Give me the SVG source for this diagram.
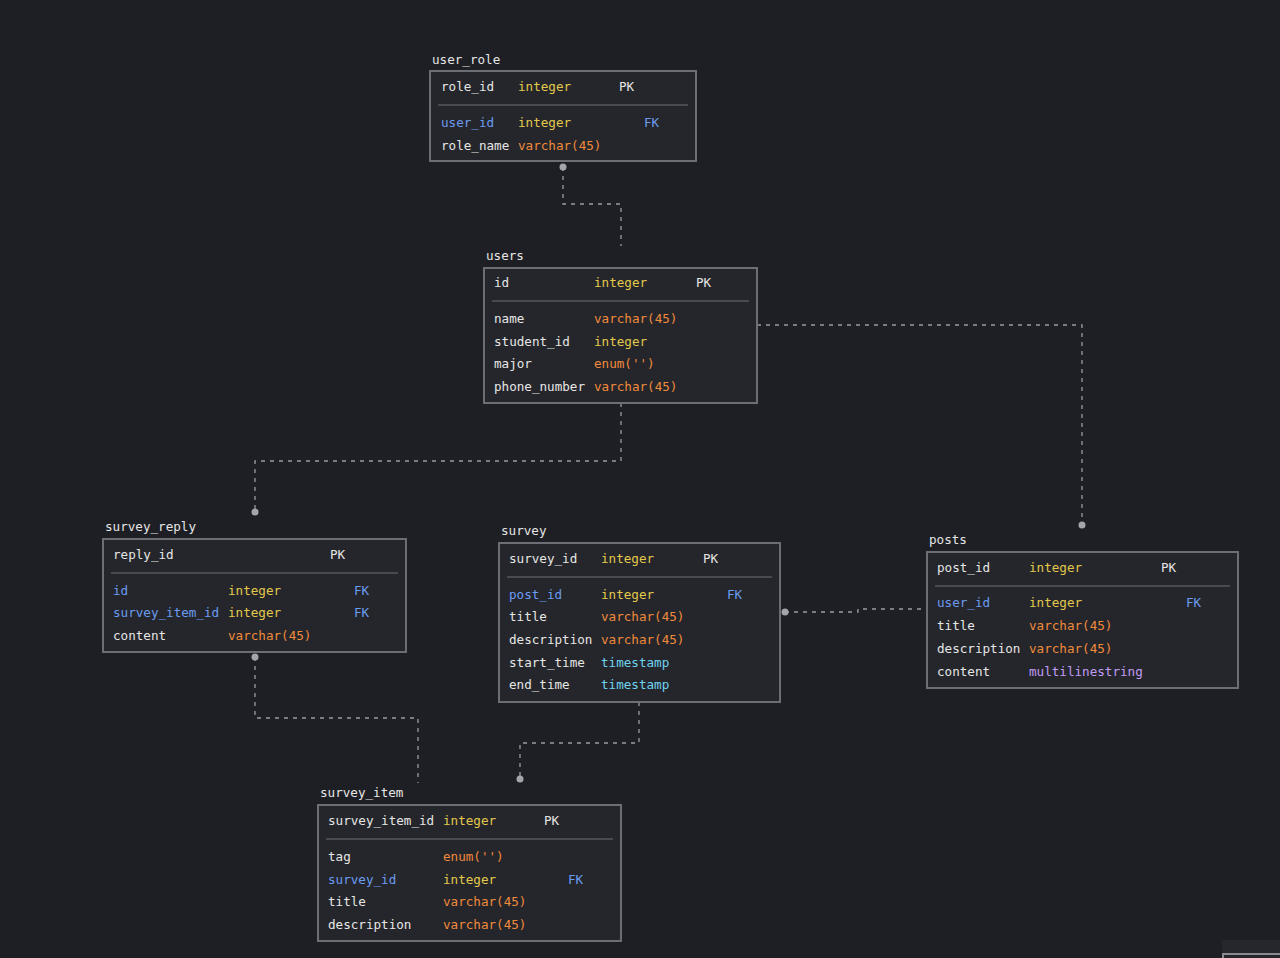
<svg xmlns="http://www.w3.org/2000/svg" width="1280" height="958" viewBox="0 0 1280 958">
<style>
text{font-family:"DejaVu Sans Mono","Liberation Mono",monospace;font-size:12.6px;fill:#e6e6e6}
.box{fill:#25262b;stroke:#6c6e76;stroke-width:2}
.sep{stroke:#55575e;stroke-width:1.5}
.i{fill:#e3c94c}
.v{fill:#f08a3c}
.f{fill:#6b9cf2}
.c{fill:#6fd3ee}
.p{fill:#c09cf4}
.ln{fill:none;stroke:#9a9ba0;stroke-width:1.3;stroke-dasharray:4 5}
.dot{fill:#a4a5aa}
</style>
<rect width="1280" height="958" fill="#1e1f24"/>
<g id="connectors">
<path class="ln" d="M563 167 V204 H621 V246"/>
<circle class="dot" cx="563" cy="167" r="3.5"/>
<path class="ln" d="M757 325 H1082 V525"/>
<circle class="dot" cx="1082" cy="525" r="3.5"/>
<path class="ln" d="M621 403 V461 H255 V512"/>
<circle class="dot" cx="255" cy="512" r="3.5"/>
<path class="ln" d="M255 657 V718 H418 V783"/>
<circle class="dot" cx="255" cy="657" r="3.5"/>
<path class="ln" d="M785 612 H858 V609 H927"/>
<circle class="dot" cx="785" cy="612" r="3.5"/>
<path class="ln" d="M639 702 V743 H520 V779"/>
<circle class="dot" cx="520" cy="779" r="3.5"/>
</g>
<g id="user_role">
<text x="432" y="64">user_role</text>
<rect class="box" x="430" y="71" width="266" height="90"/>
<line class="sep" x1="438" y1="105" x2="688" y2="105"/>
<text x="441" y="91">role_id</text><text class="i" x="518" y="91">integer</text><text x="619" y="91">PK</text>
<text class="f" x="441" y="127">user_id</text><text class="i" x="518" y="127">integer</text><text class="f" x="644" y="127">FK</text>
<text x="441" y="150">role_name</text><text class="v" x="518" y="150">varchar(45)</text>
</g>
<g id="users">
<text x="486" y="260">users</text>
<rect class="box" x="484" y="268" width="273" height="135"/>
<line class="sep" x1="492" y1="301" x2="749" y2="301"/>
<text x="494" y="287">id</text><text class="i" x="594" y="287">integer</text><text x="696" y="287">PK</text>
<text x="494" y="323">name</text><text class="v" x="594" y="323">varchar(45)</text>
<text x="494" y="346">student_id</text><text class="i" x="594" y="346">integer</text>
<text x="494" y="368">major</text><text class="v" x="594" y="368">enum('')</text>
<text x="494" y="391">phone_number</text><text class="v" x="594" y="391">varchar(45)</text>
</g>
<g id="survey_reply">
<text x="105" y="531">survey_reply</text>
<rect class="box" x="103" y="539" width="303" height="113"/>
<line class="sep" x1="111" y1="573" x2="398" y2="573"/>
<text x="113" y="559">reply_id</text><text x="330" y="559">PK</text>
<text class="f" x="113" y="595">id</text><text class="i" x="228" y="595">integer</text><text class="f" x="354" y="595">FK</text>
<text class="f" x="113" y="617">survey_item_id</text><text class="i" x="228" y="617">integer</text><text class="f" x="354" y="617">FK</text>
<text x="113" y="640">content</text><text class="v" x="228" y="640">varchar(45)</text>
</g>
<g id="survey">
<text x="501" y="535">survey</text>
<rect class="box" x="499" y="543" width="281" height="159"/>
<line class="sep" x1="507" y1="577" x2="772" y2="577"/>
<text x="509" y="563">survey_id</text><text class="i" x="601" y="563">integer</text><text x="703" y="563">PK</text>
<text class="f" x="509" y="599">post_id</text><text class="i" x="601" y="599">integer</text><text class="f" x="727" y="599">FK</text>
<text x="509" y="621">title</text><text class="v" x="601" y="621">varchar(45)</text>
<text x="509" y="644">description</text><text class="v" x="601" y="644">varchar(45)</text>
<text x="509" y="667">start_time</text><text class="c" x="601" y="667">timestamp</text>
<text x="509" y="689">end_time</text><text class="c" x="601" y="689">timestamp</text>
</g>
<g id="posts">
<text x="929" y="544">posts</text>
<rect class="box" x="927" y="552" width="311" height="136"/>
<line class="sep" x1="935" y1="586" x2="1230" y2="586"/>
<text x="937" y="572">post_id</text><text class="i" x="1029" y="572">integer</text><text x="1161" y="572">PK</text>
<text class="f" x="937" y="607">user_id</text><text class="i" x="1029" y="607">integer</text><text class="f" x="1186" y="607">FK</text>
<text x="937" y="630">title</text><text class="v" x="1029" y="630">varchar(45)</text>
<text x="937" y="653">description</text><text class="v" x="1029" y="653">varchar(45)</text>
<text x="937" y="676">content</text><text class="p" x="1029" y="676">multilinestring</text>
</g>
<g id="survey_item">
<text x="320" y="797">survey_item</text>
<rect class="box" x="318" y="805" width="303" height="136"/>
<line class="sep" x1="326" y1="839" x2="613" y2="839"/>
<text x="328" y="825">survey_item_id</text><text class="i" x="443" y="825">integer</text><text x="544" y="825">PK</text>
<text x="328" y="861">tag</text><text class="v" x="443" y="861">enum('')</text>
<text class="f" x="328" y="884">survey_id</text><text class="i" x="443" y="884">integer</text><text class="f" x="568" y="884">FK</text>
<text x="328" y="906">title</text><text class="v" x="443" y="906">varchar(45)</text>
<text x="328" y="929">description</text><text class="v" x="443" y="929">varchar(45)</text>
</g>
<g id="corner">
<rect x="1222" y="940" width="58" height="18" fill="#26272c"/>
<line x1="1223" y1="954" x2="1280" y2="954" stroke="#8a8b90" stroke-width="2"/>
<line x1="1223" y1="953" x2="1223" y2="958" stroke="#8a8b90" stroke-width="2"/>
</g>
</svg>
